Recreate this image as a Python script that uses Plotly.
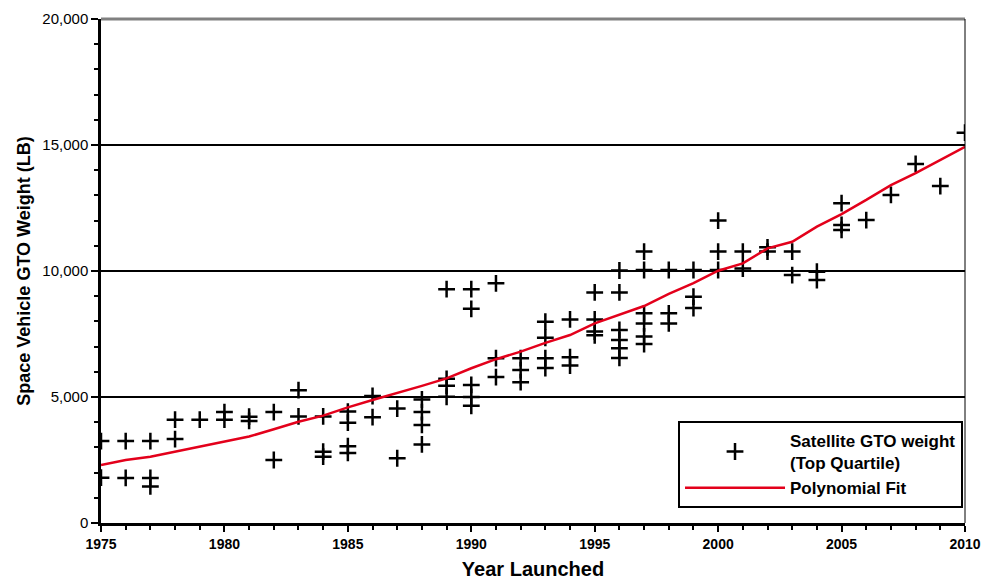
import plotly.graph_objects as go

# Scatter data: satellite GTO weight (top quartile)
sat_years = [
    1975, 1975,
    1976, 1976,
    1977, 1977, 1977,
    1978, 1978,
    1979,
    1980, 1980,
    1981, 1981,
    1982, 1982,
    1983, 1983,
    1984, 1984, 1984,
    1985, 1985, 1985, 1985,
    1986, 1986,
    1987, 1987,
    1988, 1988, 1988, 1988,
    1989, 1989, 1989, 1989,
    1990, 1990, 1990, 1990, 1990,
    1991, 1991, 1991,
    1992, 1992, 1992,
    1993, 1993, 1993, 1993,
    1994, 1994, 1994,
    1995, 1995, 1995, 1995,
    1996, 1996, 1996, 1996, 1996, 1996,
    1997, 1997, 1997, 1997, 1997, 1997,
    1998, 1998, 1998,
    1999, 1999, 1999,
    2000, 2000, 2000,
    2001, 2001,
    2002, 2002,
    2003, 2003,
    2004, 2004,
    2005, 2005, 2005,
    2006,
    2007,
    2008,
    2009,
    2010,
]
sat_weights = [
    3250, 1800,
    3250, 1790,
    3250, 1790, 1450,
    4100, 3330,
    4100,
    4400, 4100,
    4220, 4050,
    4400, 2500,
    5270, 4230,
    4230, 2830, 2630,
    4420, 3980, 3050, 2780,
    5040, 4200,
    4540, 2570,
    4900, 4400, 3890, 3120,
    9280, 5720, 5450, 5010,
    9280, 8500, 5480, 5000, 4650,
    9510, 6540, 5790,
    6540, 6070, 5590,
    7990, 7350, 6540, 6150,
    8080, 6580, 6250,
    9150, 8080, 7600, 7450,
    10020, 9150, 7660, 7260, 6930, 6550,
    10770, 10040, 8320, 7920, 7400, 7100,
    10040, 8320, 7920,
    10040, 8980, 8530,
    12000, 10770, 10040,
    10770, 10100,
    10940, 10770,
    10770, 9840,
    9970, 9640,
    12690, 11830, 11630,
    12020,
    13020,
    14250,
    13370,
    15490,
]

# Polynomial fit line
fit_years = list(range(1975, 2011))
fit_values = [
    2300, 2500, 2630, 2830, 3060, 3250, 3430, 3720, 4020, 4260,
    4590, 4880, 5150, 5440, 5740, 6140, 6500, 6800, 7150, 7460,
    7920, 8250, 8610, 9090, 9520, 10010, 10300, 10900, 11160, 11760,
    12260, 12820, 13410, 13880, 14400, 14930,
]

x_tick_vals = [1975, 1980, 1985, 1990, 1995, 2000, 2005, 2010]
y_tick_vals = [0, 5000, 10000, 15000, 20000]

FONT = "Liberation Sans, Arial, sans-serif"

fig = go.Figure()
fig.add_trace(go.Scatter(
    x=sat_years, y=sat_weights, mode="markers",
    name="Satellite GTO weight<br>(Top Quartile)",
    marker=dict(symbol="cross-thin", size=12, color="black",
                line=dict(color="black", width=2.5)),
))
fig.add_trace(go.Scatter(
    x=fit_years, y=fit_values, mode="lines",
    name="Polynomial Fit",
    line=dict(color="#e3001b", width=2.5),
))

fig.update_layout(
    width=991, height=582,
    margin=dict(l=101, r=26, t=19, b=59),
    plot_bgcolor="white", paper_bgcolor="white",
    font=dict(family=FONT, color="black"),
    showlegend=True,
    legend=dict(
        x=0.9977, xanchor="right", y=0.03, yanchor="bottom",
        bordercolor="black", borderwidth=2, bgcolor="white",
        font=dict(family=FONT, size=17, weight="bold", color="black"),
        itemwidth=100, tracegroupgap=2,
    ),
    xaxis=dict(
        range=[1975, 2010], tickvals=x_tick_vals, automargin=False,
        ticks="outside", ticklen=6, tickwidth=2, tickcolor="black",
        minor=dict(dtick=1, ticks="outside", ticklen=4, tickwidth=1.5, tickcolor="black"),
        showline=True, linecolor="black", linewidth=2.5,
        showgrid=False, zeroline=False,
        tickfont=dict(family=FONT, size=14, weight="bold"),
        title=dict(text="Year Launched", font=dict(family=FONT, size=20, weight="bold"), standoff=12),
    ),
    yaxis=dict(
        range=[0, 20000], tickvals=y_tick_vals, tickformat=",", automargin=False,
        ticks="outside", ticklen=7, tickwidth=2, tickcolor="black",
        minor=dict(dtick=1000, ticks="outside", ticklen=4, tickwidth=1.5, tickcolor="black"),
        showline=True, linecolor="black", linewidth=2.5,
        showgrid=True, gridcolor="black", gridwidth=2, zeroline=False,
        tickfont=dict(family=FONT, size=15),
        title=dict(text="Space Vehicle GTO Weight (LB)", font=dict(family=FONT, size=18, weight="bold"), standoff=8),
    ),
    shapes=[
        dict(type="line", xref="paper", yref="paper", x0=0, x1=1, y0=1, y1=1,
             line=dict(color="#808080", width=3)),
        dict(type="line", xref="paper", yref="paper", x0=1, x1=1, y0=0, y1=1,
             line=dict(color="black", width=1)),
    ],
)

fig.write_html(
    "out.html",
    config={"displayModeBar": False},
    post_script="document.body.style.margin='0';document.body.style.overflow='hidden';",
)
